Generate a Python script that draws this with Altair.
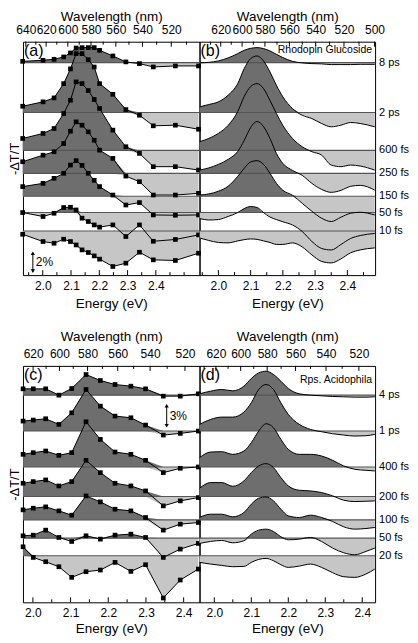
import altair as alt
import pandas as pd

FONT = "Liberation Sans"
DARK = "#6e6e6e"
LIGHT = "#c6c6c6"
BASELINE = "#555555"

# ---------------- Panel (a): Rhodopin glucoside, measured spectra ----------------
E_a = [1.929, 2.001, 2.040, 2.074, 2.098, 2.118, 2.139, 2.161, 2.182, 2.201,
       2.248, 2.294, 2.342, 2.391, 2.469, 2.551]
a_8ps = [0.14, 0.26, 0.37, 0.63, 1.08, 1.63, 1.67, 1.67, 1.67, 1.37, 0.74, 0.08, -0.11, -0.48, -0.37, -0.37]
a_2ps = [0.70, 1.19, 1.63, 3.22, 4.86, 6.56, 6.56, 5.89, 5.07, 3.22, 2.03, 0.33, -0.30, -1.48, -1.41, -1.86]
a_600fs = [1.33, 1.89, 2.44, 4.11, 5.59, 7.63, 7.44, 6.67, 5.67, 4.67, 2.26, 0.41, -0.33, -1.81, -1.81, -2.19]
a_250fs = [1.30, 2.03, 2.41, 3.33, 4.70, 5.74, 5.37, 4.63, 3.70, 2.59, 1.67, -0.30, -0.92, -2.41, -2.41, -2.22]
a_150fs = [1.08, 1.44, 2.00, 2.56, 3.48, 3.97, 3.44, 2.56, 1.78, 1.08, 0.14, -0.97, -0.70, -2.08, -2.11, -2.08]
a_50fs = [0.00, -0.44, -0.08, 0.56, 0.59, 0.29, -0.63, -1.00, -1.38, -1.63, -1.38, -2.67, -1.38, -3.20, -3.00, -2.49]
a_10fs = [-0.37, -1.18, -1.37, -0.92, -1.18, -1.56, -2.11, -2.40, -2.78, -3.14, -3.96, -3.59, -2.37, -3.22, -3.29, -2.48]

# ---------------- Panel (b): Rhodopin glucoside, simulated spectra ----------------
E_b = [1.942, 1.97, 2.00, 2.03, 2.06, 2.08, 2.10, 2.12, 2.14, 2.16, 2.18, 2.20, 2.23,
       2.26, 2.29, 2.32, 2.35, 2.38, 2.41, 2.44, 2.485]
b_8ps = [-0.03, 0.03, 0.19, 0.52, 1.00, 1.37, 1.59, 1.67, 1.56, 1.30, 0.92, 0.56, 0.14, -0.03, -0.11, -0.14, -0.22, -0.22, -0.22, -0.19, -0.19]
b_2ps = [0.63, 0.89, 1.19, 1.92, 3.22, 4.89, 6.00, 6.30, 5.74, 4.52, 3.03, 1.74, 0.44, -0.30, -0.67, -1.22, -1.59, -1.41, -1.11, -1.22, -1.59]
b_600fs = [0.97, 1.33, 1.89, 2.78, 4.33, 6.00, 7.11, 7.44, 6.89, 5.56, 4.11, 2.78, 1.33, 0.41, -0.14, -0.52, -1.63, -1.81, -1.63, -1.74, -2.19]
b_250fs = [0.37, 0.61, 1.00, 1.56, 2.44, 3.67, 5.11, 5.78, 5.22, 3.89, 2.22, 1.11, 0.33, -0.22, -1.11, -1.78, -2.11, -1.89, -1.44, -1.33, -1.86]
b_150fs = [0.14, 0.26, 0.56, 1.11, 2.22, 3.11, 3.83, 3.97, 3.56, 2.56, 1.44, 0.67, 0.11, -0.78, -1.67, -2.44, -2.81, -2.33, -1.89, -1.78, -2.08]
b_50fs = [-0.67, -0.83, -0.78, -0.44, 0.00, 0.44, 0.67, 0.56, 0.00, -0.50, -0.78, -1.03, -1.39, -2.11, -3.22, -4.00, -4.17, -3.56, -2.89, -2.56, -2.33]
b_10fs = [-0.78, -1.06, -1.28, -1.33, -1.11, -0.97, -0.89, -0.94, -1.11, -1.28, -1.50, -1.50, -1.33, -1.78, -2.67, -3.39, -3.56, -3.11, -2.44, -2.11, -1.89]

labels_top = ["8 ps", "2 ps", "600 fs", "250 fs", "150 fs", "50 fs", "10 fs"]
offsets_top = [23.67, 18.11, 13.89, 11.33, 8.78, 6.97, 4.92]

# ---------------- Panel (c): Rps. acidophila, measured spectra ----------------
E_c = [1.974, 2.001, 2.034, 2.069, 2.103, 2.141, 2.179, 2.218, 2.260, 2.299, 2.346, 2.391, 2.439]
c_4ps = [0.95, 0.95, 0.95, 0.00, 1.00, 3.10, 2.20, 1.60, 1.35, 0.95, -0.15, -0.15, 0.20]
c_1ps = [1.50, 1.65, 1.85, 1.00, 2.75, 6.25, 3.75, 2.25, 2.00, 0.90, -0.60, -0.35, 0.00]
c_400fs = [1.90, 2.15, 2.40, 1.75, 2.15, 6.80, 4.15, 2.25, 1.90, 1.00, -0.85, -0.20, 0.00]
c_200fs = [2.00, 2.25, 2.50, 1.60, 2.25, 5.45, 3.60, 2.00, 1.60, 0.85, -1.40, -0.65, -0.15]
c_100fs = [1.50, 1.75, 1.95, 1.35, 0.70, 3.60, 2.70, 1.60, 1.35, 0.35, -1.55, -0.65, -0.40]
c_50fs = [0.35, 0.45, 1.20, 0.10, -0.50, 0.35, -0.15, 0.45, 0.60, 0.10, -2.90, -1.65, -0.80]
c_20fs = [1.35, -0.25, -0.90, -1.65, -3.25, -2.40, -2.15, -1.00, -2.35, -1.35, -6.35, -3.65, -2.00]

# ---------------- Panel (d): Rps. acidophila, simulated spectra ----------------
E_d = [1.96, 1.99, 2.02, 2.05, 2.08, 2.10, 2.12, 2.14, 2.16, 2.18, 2.20, 2.23, 2.26,
       2.29, 2.32, 2.35, 2.38, 2.41, 2.434]
d_4ps = [0.20, 0.60, 0.85, 0.65, 1.35, 2.50, 3.35, 3.60, 3.10, 2.10, 1.00, 0.20, 0.00, -0.10, -0.20, -0.25, -0.30, -0.30, -0.25]
d_1ps = [1.00, 1.75, 2.10, 2.10, 2.85, 4.25, 6.25, 7.00, 6.25, 4.25, 2.50, 1.00, 0.25, -0.10, -0.40, -0.60, -0.75, -0.70, -0.50]
d_400fs = [1.40, 2.25, 2.30, 1.90, 2.40, 3.65, 5.40, 6.50, 5.90, 4.15, 2.65, 1.90, 1.90, 1.65, 1.00, 0.15, -0.35, -0.50, -0.60]
d_200fs = [1.25, 2.10, 2.10, 1.55, 2.35, 3.60, 4.60, 4.95, 4.35, 2.85, 1.60, 0.95, 0.85, 0.60, 0.10, -0.55, -0.75, -0.70, -0.65]
d_100fs = [0.35, 0.85, 0.85, 0.45, 1.10, 2.35, 3.25, 3.45, 2.85, 1.60, 0.60, 0.35, 0.70, 0.35, -0.25, -1.05, -1.40, -1.30, -1.15]
d_50fs = [-0.80, -0.50, -0.35, -0.70, -0.40, 0.60, 1.20, 1.35, 1.00, 0.20, -0.25, -0.15, 0.10, -0.50, -1.50, -2.20, -2.50, -2.00, -1.50]
d_20fs = [-1.00, -1.25, -1.45, -1.65, -1.60, -1.00, -0.55, -0.40, -0.75, -1.35, -1.75, -1.55, -1.25, -1.75, -2.55, -3.15, -3.25, -2.75, -2.00]

labels_bot = ["4 ps", "1 ps", "400 fs", "200 fs", "100 fs", "50 fs", "20 fs"]
offsets_bot = [31.15, 25.75, 20.35, 15.90, 12.40, 9.65, 7.00]

# axis tick values
energy_labels = [2.0, 2.1, 2.2, 2.3, 2.4]
energy_major = [2.0, 2.1, 2.2, 2.3, 2.4]
energy_minor = [1.95, 2.05, 2.15, 2.25, 2.35, 2.45, 2.5]


def make_df(E, series, labels, offsets):
    rows = []
    for vals, lab, off in zip(series, labels, offsets):
        for e, v in zip(E, vals):
            rows.append({"E": e, "v": v, "series": lab, "off": off})
    return pd.DataFrame(rows)


def build_panel(p):
    W, H = p["W"], p["H"]
    df = make_df(p["E"], p["series"], p["labels"], p["offsets"])
    X = alt.X("E:Q", scale=alt.Scale(domain=p["xdom"], nice=False, zero=False),
              axis=alt.Axis(orient="bottom", values=energy_labels, format=".1f",
                            title="Energy (eV)", ticks=False, domain=False, grid=False,
                            labelPadding=5, titlePadding=p["btp"], labelFlush=False,
                            labelOverlap=False))
    ysc = alt.Scale(domain=p["ydom"], nice=False, zero=False)
    if p["ylab"]:
        yax = alt.Axis(title="-ΔT/T", labels=False, ticks=False, domain=False,
                       grid=False, titlePadding=1, titleFontSize=13)
    else:
        yax = None

    def Y(f):
        return alt.Y(f, scale=ysc, axis=yax, stack=None)

    base = alt.Chart(df).transform_calculate(
        y="datum.off + datum.v",
        hi="datum.off + max(datum.v, 0)",
        lo="datum.off + min(datum.v, 0)",
    )
    interp = p["interp"]
    light = base.mark_area(color=LIGHT, interpolate=interp, opacity=1).encode(
        x=X, y=Y("lo:Q"), y2=alt.Y2("off:Q"), detail="series:N")
    dark = base.mark_area(color=DARK, interpolate=interp, opacity=1).encode(
        x=X, y=Y("hi:Q"), y2=alt.Y2("off:Q"), detail="series:N")
    offs_df = pd.DataFrame({"label": p["labels"], "off": p["offsets"]})
    baselines = alt.Chart(offs_df).mark_rule(color=BASELINE, strokeWidth=1.1).encode(y=Y("off:Q"))
    lines = base.mark_line(color="black", strokeWidth=1, interpolate=interp).encode(
        x=X, y=Y("y:Q"), detail="series:N")
    layers = [light, dark, baselines, lines]
    if p["points"]:
        layers.append(base.mark_square(color="black", size=22, opacity=1).encode(x=X, y=Y("y:Q")))

    bmaj = alt.Chart(pd.DataFrame({"E": energy_major})).mark_rule(color="black").encode(
        x=X, y=alt.value(H), y2=alt.value(H - 5))
    bmin = alt.Chart(pd.DataFrame({"E": [e for e in energy_minor if p["xdom"][0] < e < p["xdom"][1]]})).mark_rule(
        color="black").encode(x=X, y=alt.value(H), y2=alt.value(H - 3))
    layers += [bmaj, bmin]

    letter = alt.Chart(pd.DataFrame({"t": [p["letter"]]})).mark_text(
        align="left", baseline="top", fontSize=16, font=FONT, color="black").encode(
        x=alt.value(1), y=alt.value(1), text="t:N")
    layers.append(letter)

    if p["right_labels"]:
        layers.append(alt.Chart(offs_df).mark_text(
            align="left", baseline="middle", fontSize=11, font=FONT, color="black").encode(
            x=alt.value(W + 4), y=Y("off:Q"), text="label:N"))
    if p["note"]:
        layers.append(alt.Chart(pd.DataFrame({"t": [p["note"]]})).mark_text(
            align="right", baseline="middle", fontSize=10.5, font=FONT, color="black").encode(
            x=alt.value(W - 3), y=alt.value(p["note_y"]), text="t:N"))
    if p["bar"]:
        bdf = pd.DataFrame([p["bar"]])
        bar = alt.Chart(bdf)
        layers.append(bar.mark_rule(color="black", strokeWidth=1).encode(
            x=X, y=Y("lo:Q"), y2=alt.Y2("hi:Q")))
        layers.append(bar.mark_point(shape="triangle-up", filled=True, size=18, color="black", opacity=1).encode(
            x=X, y=Y("hi:Q")))
        layers.append(bar.mark_point(shape="triangle-down", filled=True, size=18, color="black", opacity=1).encode(
            x=X, y=Y("lo:Q")))
        layers.append(bar.transform_calculate(mid="(datum.lo + datum.hi) / 2").mark_text(
            align="left", baseline="middle", dx=3, fontSize=12, font=FONT, color="black").encode(
            x=X, y=Y("mid:Q"), text="t:N"))

    main = alt.layer(*layers)

    XT = alt.X("Et:Q", scale=alt.Scale(domain=p["tdom"], nice=False, zero=False),
               axis=alt.Axis(orient="top", values=[1239.84 / w for w in p["tmaj"]],
                             labelExpr="format(1239.84 / datum.value, '.0f')",
                             title="Wavelength (nm)", ticks=False, domain=False, grid=False,
                             labelPadding=5, titlePadding=p["ttp"], labelFlush=False,
                             labelOverlap=False))
    tmaj = alt.Chart(pd.DataFrame({"nm": p["tmaj"]})).transform_calculate(
        Et="1239.84 / datum.nm").mark_rule(color="black").encode(
        x=XT, y=alt.value(0), y2=alt.value(5))
    tmin = alt.Chart(pd.DataFrame({"nm": p["tmin"]})).transform_calculate(
        Et="1239.84 / datum.nm").mark_rule(color="black").encode(
        x=XT, y=alt.value(0), y2=alt.value(3))
    top = alt.layer(tmaj, tmin)

    return alt.layer(main, top).resolve_scale(x="independent").properties(width=W, height=H)


pa = build_panel(dict(
    E=E_a, series=[a_8ps, a_2ps, a_600fs, a_250fs, a_150fs, a_50fs, a_10fs],
    labels=labels_top, offsets=offsets_top, xdom=[1.930, 2.5545], tdom=[1.9285, 2.4712],
    W=177, H=234, ydom=[0, 26], interp="linear", points=True, letter="(a)", ylab=True,
    right_labels=False, note=None, note_y=0, btp=5, ttp=0,
    tmaj=[640, 620, 600, 580, 560, 540, 520], tmin=[630, 610, 590, 570, 550, 530, 510],
    bar={"E": 1.965, "lo": 0.44, "hi": 2.44, "t": "2%"}))

pb = build_panel(dict(
    E=E_b, series=[b_8ps, b_2ps, b_600fs, b_250fs, b_150fs, b_50fs, b_10fs],
    labels=labels_top, offsets=offsets_top, xdom=[1.9415, 2.486], tdom=[1.9335, 2.4814],
    W=176, H=234, ydom=[0, 26], interp="monotone", points=False, letter="(b)", ylab=False,
    right_labels=True, note="Rhodopin Glucoside", note_y=8, btp=5, ttp=0,
    tmaj=[620, 600, 580, 560, 540, 520, 500], tmin=[630, 610, 590, 570, 550, 530, 510],
    bar=None))

pc = build_panel(dict(
    E=E_c, series=[c_4ps, c_1ps, c_400fs, c_200fs, c_100fs, c_50fs, c_20fs],
    labels=labels_bot, offsets=offsets_bot, xdom=[1.9737, 2.4421], tdom=[1.974, 2.4212],
    W=177, H=237, ydom=[0, 35.55], interp="linear", points=True, letter="(c)", ylab=True,
    right_labels=False, note=None, note_y=0, btp=3, ttp=4,
    tmaj=[620, 600, 580, 560, 540, 520], tmin=[610, 590, 570, 550, 530],
    bar={"E": 2.355, "lo": 26.55, "hi": 29.55, "t": "3%"}))

pd_ = build_panel(dict(
    E=E_d, series=[d_4ps, d_1ps, d_400fs, d_200fs, d_100fs, d_50fs, d_20fs],
    labels=labels_bot, offsets=offsets_bot, xdom=[1.96, 2.4347], tdom=[1.9557, 2.4279],
    W=176, H=237, ydom=[0, 35.55], interp="monotone", points=False, letter="(d)", ylab=False,
    right_labels=True, note="Rps. Acidophila", note_y=14, btp=3, ttp=4,
    tmaj=[620, 600, 580, 560, 540, 520], tmin=[630, 610, 590, 570, 550, 530],
    bar=None))

row1 = alt.hconcat(pa, pb, spacing=0, bounds="flush")
row2 = alt.hconcat(pc, pd_, spacing=0, bounds="flush")

chart = alt.vconcat(row1, row2, spacing=19).properties(padding=0).configure_view(
    stroke="black", strokeWidth=1
).configure_axis(
    labelFont=FONT, titleFont=FONT, labelColor="black", titleColor="black",
    titleFontWeight="normal", labelFontSize=12, titleFontSize=13.5, grid=False
).configure_text(font=FONT)

chart.save("out.html", embed_options={"renderer": "svg", "actions": False})
